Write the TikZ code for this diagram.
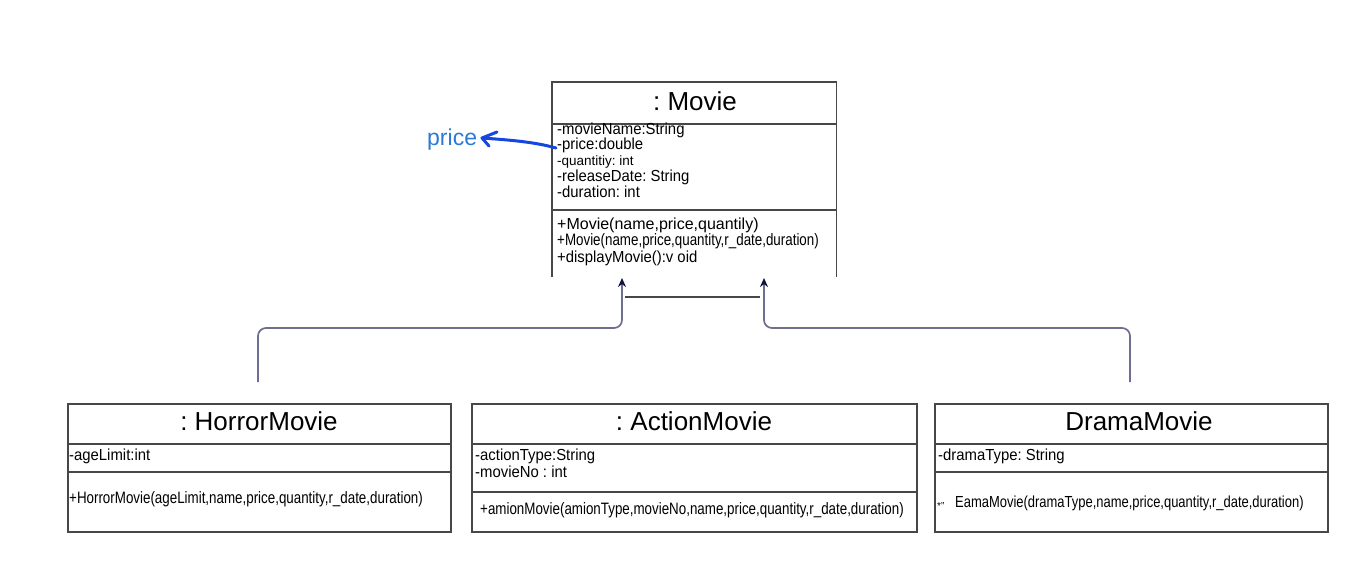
\documentclass[tikz,border=0pt]{standalone}
\usepackage{fontspec}
\setmainfont{Liberation Sans}
\newfontfamily\semif[FakeStretch=0.93]{Liberation Sans}
\newfontfamily\condf[FakeStretch=0.81]{Liberation Sans}
\usetikzlibrary{arrows.meta}
\definecolor{boxgray}{HTML}{474747}
\definecolor{conngray}{HTML}{6E6E90}
\definecolor{tipnavy}{HTML}{121240}
\definecolor{pricetxt}{HTML}{2A7AD5}
\definecolor{penblue}{HTML}{1546E0}
\frenchspacing
\begin{document}
\begin{tikzpicture}[x=1pt,y=-1pt,
  box/.style={draw=boxgray, line width=1.7pt},
  cls/.style={box, inner sep=0pt, anchor=north west},
  ttl/.style={anchor=base, inner sep=0pt, font=\frenchspacing\fontsize{26}{30}\selectfont},
  attr/.style={anchor=base west, inner sep=0pt, font=\frenchspacing\semif\fontsize{16}{16}\selectfont},
  meth/.style={anchor=base west, inner sep=0pt, font=\frenchspacing\condf\fontsize{16.5}{16}\selectfont},
  inh/.style={draw=conngray, line width=1.7pt, rounded corners=8pt,
    -{Stealth[length=9pt,width=8pt,color=tipnavy]}}]
\useasboundingbox (0,0) rectangle (1356,562);

% ---------- Movie ----------
\node[inner sep=0pt, anchor=north west, minimum width=284pt, minimum height=195pt] (movie) at (552,82) {};
\draw[box] (movie.south west) -- (movie.north west) -- (movie.north east) -- (movie.south east);
\draw[box] (552,124) -- (836,124);
\draw[box] (552,210) -- (836,210);
\node[ttl] (mt) at (695,110) {: Movie};
\node[attr] (ma1) at (557,134) {-movieName:String};
\node[attr] (ma2) at (557,149.5) {-price:double};
\node[attr, font=\frenchspacing\fontsize{13.5}{16}\selectfont] (ma3) at (557,165) {-quantitiy: int};
\node[attr] (ma4) at (557,181) {-releaseDate: String};
\node[attr] (ma5) at (557,197) {-duration: int};
\node[attr, font=\frenchspacing\fontsize{16}{16}\selectfont] (mm1) at (557,229.5) {+Movie(name,price,quantily)};
\node[meth] (mm2) at (557,245.5) {+Movie(name,price,quantity,r\_date,duration)};
\node[attr] (mm3) at (557,262) {+displayMovie():v oid};

\coordinate (bl) at (625,297);
\coordinate (br) at (760,297);
\draw[box] (bl) -- (br);

% ---------- HorrorMovie ----------
\node[cls, minimum width=383pt, minimum height=128pt] (horror) at (67,403) {};
\draw[box] (67,444) -- (450,444);
\draw[box] (67,472) -- (450,472);
\node[ttl] (ht) at (259,430) {: HorrorMovie};
\node[attr] (ha1) at (69,460) {-ageLimit:int};
\node[meth] (hm1) at (69,503.5) {+HorrorMovie(ageLimit,name,price,quantity,r\_date,duration)};

% ---------- ActionMovie ----------
\node[cls, minimum width=445pt, minimum height=128pt] (action) at (471,403) {};
\draw[box] (471,444) -- (916,444);
\draw[box] (471,492) -- (916,492);
\node[ttl] (at) at (694,430) {: ActionMovie};
\node[attr] (aa1) at (475,460) {-actionType:String};
\node[attr] (aa2) at (475,477) {-movieNo : int};
\node[meth] (am1) at (480,514.5) {+amionMovie(amionType,movieNo,name,price,quantity,r\_date,duration)};

% ---------- DramaMovie ----------
\node[cls, minimum width=393pt, minimum height=128pt] (drama) at (934,403) {};
\draw[box] (934,444) -- (1327,444);
\draw[box] (934,472) -- (1327,472);
\node[ttl] (dt) at (1139,430) {DramaMovie};
\node[attr] (da1) at (938,460) {-dramaType: String};
\node[attr, font=\fontsize{10}{10}\selectfont] (dm0) at (937,509) {*"};
\node[meth, font=\frenchspacing\condf\fontsize{16}{16}\selectfont] (dm1) at (955,507.5) {EamaMovie(dramaType,name,price,quantity,r\_date,duration)};

% ---------- inheritance connectors ----------
\coordinate (hs) at (258,382);
\coordinate (ds) at (1130,382);
\coordinate (mL) at (622,278);
\coordinate (mR) at (764,278);
\draw[inh] (hs) -- (258,328) -- (622,328) -- (mL);
\draw[inh] (ds) -- (1130,328) -- (764,328) -- (mR);

% ---------- annotation ----------
\node[inner sep=0pt, anchor=base west, text=pricetxt, font=\fontsize{23}{26}\selectfont] (pl) at (427,145) {price};
\coordinate (ps) at (556,148);
\coordinate (pt) at (482,138);
\draw[penblue, line width=3pt, line cap=round, line join=round]
  (ps) .. controls (535,142) and (510,140) .. (pt);
\draw[penblue, line width=3pt, line cap=round, line join=round]
  (497,132) -- (pt) -- (489,146);
\end{tikzpicture}
\end{document}
